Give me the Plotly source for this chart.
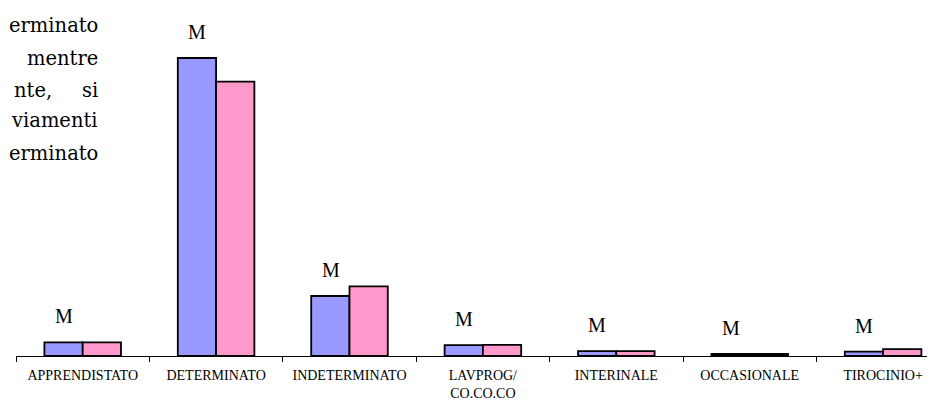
import plotly.graph_objects as go

categorie = ["APPRENDISTATO", "DETERMINATO", "INDETERMINATO", "LAVPROG/<br>CO.CO.CO",
             "INTERINALE", "OCCASIONALE", "TIROCINIO+"]
serie_a = [3.4, 74.5, 15.0, 2.7, 1.2, 0.5, 1.1]
serie_b = [3.4, 68.6, 17.4, 2.8, 1.2, 0.5, 1.7]
etichette = ["M"] * 7

testo_righe = ["erminato", "mentre", "si", "viamenti", "erminato"]
testo_y = [18, 50, 82, 112, 145]

fig = go.Figure()

fig.add_trace(go.Bar(
    x=categorie, y=serie_a, name="A",
    marker=dict(color="#9999FF", line=dict(color="black", width=1.8))
))
fig.add_trace(go.Bar(
    x=categorie, y=serie_b, name="B",
    marker=dict(color="#FF99CC", line=dict(color="black", width=1.8))
))

# etichette "M" sopra la prima serie
for c, v, t in zip(categorie, serie_a, etichette):
    fig.add_annotation(x=c, y=v, text=t, showarrow=False, xshift=-19,
                       yanchor="bottom", yshift=13,
                       font=dict(family="Liberation Serif", size=20, color="black"))

# frammento di testo del documento sovrapposto
for t, yy in zip(testo_righe, testo_y):
    fig.add_annotation(xref="paper", yref="paper", x=(92 - 8) / 927, y=1 - yy / 348,
                       text=t, showarrow=False, xanchor="right", yanchor="middle",
                       font=dict(family="DejaVu Serif", size=19.5, color="black"))
fig.add_annotation(xref="paper", yref="paper", x=-4 / 927, y=1 - 82 / 348,
                   text="nte,", showarrow=False, xanchor="left", yanchor="middle",
                   font=dict(family="DejaVu Serif", size=19.5, color="black"))

fig.update_layout(
    width=935, height=402,
    barmode="group", bargap=0.426, bargroupgap=0,
    paper_bgcolor="white", plot_bgcolor="white",
    showlegend=False,
    margin=dict(l=8, r=0, t=0, b=54),
    font=dict(family="Liberation Serif", size=14, color="black"),
)
fig.update_xaxes(range=[-0.5, -0.5 + 927 / 133.4], showline=True, linecolor="black",
                 linewidth=1, ticks="outside", ticklen=5, tickcolor="black",
                 tickson="boundaries", showgrid=False, ticklabelstandoff=6)
fig.update_yaxes(range=[0, 87], visible=False)

fig.write_html("out.html")
